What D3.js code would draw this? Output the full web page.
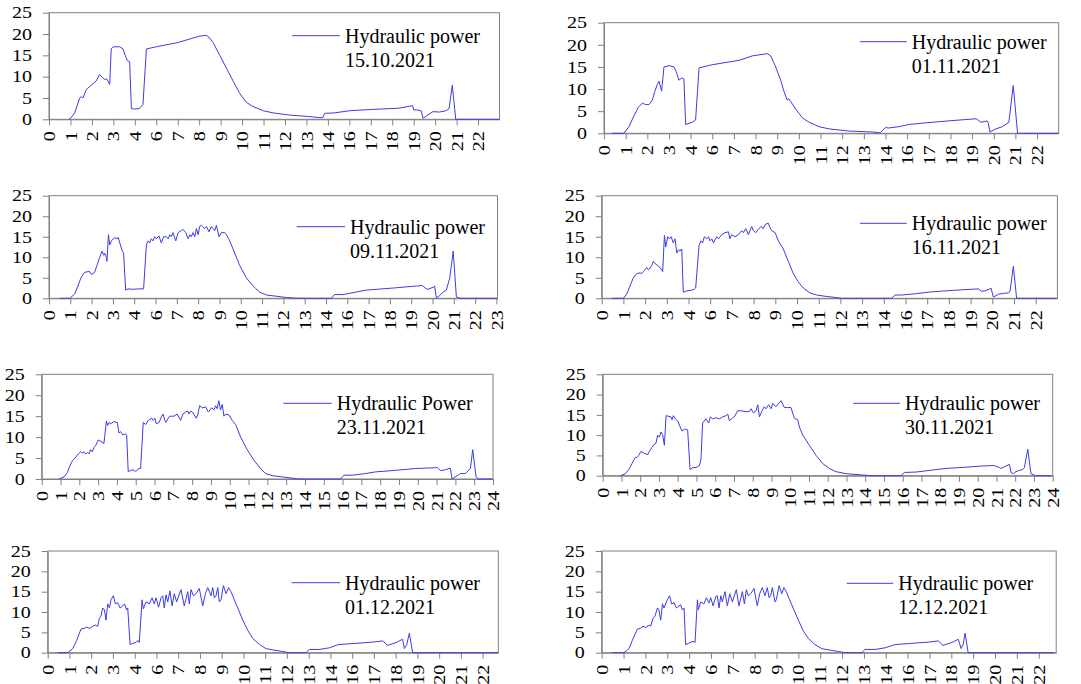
<!DOCTYPE html>
<html>
<head>
<meta charset="utf-8">
<script src="https://cdn.jsdelivr.net/npm/d3@7/dist/d3.min.js"></script>
<style>
  body { margin: 0; background: #fff; }
</style>
</head>
<body>
<div id="chart"></div>
<script>
// tick labels (hour of the day, as printed on each category axis)
const hoursA = ["0","1","2","3","4","6","7","8","9","10","11","12","13","14","16","17","18","19","20","21","22"];
const hoursB = ["0","1","2","3","4","6","7","8","9","10","11","12","13","14","16","17","18","19","20","21","22","23"];
const hoursC = ["0","1","2","3","4","5","6","7","8","9","10","11","12","13","14","15","16","17","18","19","20","21","22","23","24"];
const yTicks = [0, 5, 10, 15, 20, 25];

const dates = ["15.10.2021", "01.11.2021", "09.11.2021", "16.11.2021", "23.11.2021", "30.11.2021", "01.12.2021", "12.12.2021"];
const seriesNames = ["Hydraulic power", "Hydraulic power", "Hydraulic power", "Hydraulic power", "Hydraulic Power", "Hydraulic power", "Hydraulic power", "Hydraulic power"];

// hydraulic power, [axis position, kW]
const power_15_10 = [[0.93,0],[1.0,0.2],[1.2,1.5],[1.43,5],[1.5,5.3],[1.58,5],[1.74,7],[1.97,8],[2.2,9],[2.36,10.5],[2.5,9.8],[2.6,9.3],[2.68,9.5],[2.75,9],[2.83,8.2],[2.9,16.5],[3.0,17],[3.3,17],[3.45,16.5],[3.55,15],[3.65,13.8],[3.76,13.5],[3.84,2.5],[4.0,2.4],[4.2,2.5],[4.3,3],[4.38,3.5],[4.54,16.5],[5.0,17],[6.0,18],[7.02,19.5],[7.33,19.7],[7.45,19.3],[7.65,18],[7.96,15],[8.27,12],[8.58,9],[8.9,6],[9.2,4],[9.5,3],[10.0,2],[10.45,1.5],[11.2,1],[12.0,0.7],[12.4,0.5],[12.6,0.4],[12.77,0.4],[12.85,1.4],[13.3,1.5],[14.0,2.0],[15.0,2.3],[16.3,2.6],[16.95,3.2],[17.0,2.2],[17.15,2.2],[17.35,2.0],[17.44,0.2],[17.65,1.0],[17.9,1.8],[18.2,1.7],[18.5,2.0],[18.65,2.5],[18.8,8],[18.96,0],[21,0]];
const power_01_11 = [[0.38,0],[0.92,0],[1.15,1.5],[1.39,4],[1.6,6],[1.77,6.8],[1.92,6.5],[2.08,6.5],[2.23,7.5],[2.35,9.5],[2.46,11],[2.54,11.8],[2.66,9.5],[2.77,15],[3.0,15.3],[3.23,15],[3.33,14],[3.46,12],[3.58,12.5],[3.69,12.3],[3.77,2],[4.08,2.5],[4.23,3],[4.39,14.8],[5.0,15.5],[6.24,16.5],[6.85,17.5],[7.54,18],[7.7,17.5],[7.93,15],[8.16,12],[8.31,9.5],[8.46,7.5],[8.54,7.8],[8.62,7.2],[8.85,5.5],[9.16,3.5],[9.47,2.5],[9.93,1.5],[10.39,1],[11.32,0.5],[12.4,0.3],[12.75,0.1],[13.0,1.3],[13.15,1.2],[13.62,1.5],[14.1,2],[14.7,2.3],[15.9,2.8],[17.2,3.3],[17.4,2.5],[17.7,2.8],[17.75,2.3],[17.82,0.3],[18.1,1.0],[18.4,1.5],[18.7,2.5],[18.9,10.8],[19.1,0],[21,0]];
const power_09_11 = [[0.5,0],[0.97,0],[1.2,1],[1.36,3],[1.5,5],[1.67,6.3],[1.83,6.5],[1.91,6.5],[1.99,5.8],[2.14,6.3],[2.25,8],[2.38,10],[2.49,11.5],[2.57,10.5],[2.61,11],[2.69,10],[2.72,9],[2.79,15.5],[2.85,13],[2.93,14],[3.08,14.8],[3.19,14.5],[3.25,14.8],[3.35,13],[3.44,11.5],[3.5,11],[3.6,2],[3.71,2.3],[3.94,2.2],[4.26,2.3],[4.44,2.3],[4.57,13],[4.65,14],[4.73,13.5],[4.8,14.5],[4.88,14],[4.96,15],[5.04,14.5],[5.16,15.2],[5.27,13.5],[5.38,15],[5.51,15],[5.59,14.5],[5.67,15.5],[5.74,15],[5.82,16],[5.95,14],[6.06,16],[6.21,16.5],[6.29,16.8],[6.42,16],[6.53,14.5],[6.61,15.5],[6.68,15],[6.76,16],[6.84,15],[6.92,17],[7.0,15.5],[7.07,17.5],[7.15,17.8],[7.31,17],[7.39,17.5],[7.51,16.2],[7.62,17.5],[7.7,17],[7.78,16.5],[7.86,17.8],[7.98,15],[8.09,16],[8.25,16],[8.33,15.5],[8.48,14],[8.64,12],[8.95,8],[9.26,5],[9.58,3],[9.89,1.5],[10.2,0.8],[10.67,0.5],[11.14,0.2],[11.6,0.05],[12.1,0],[13.26,0],[13.4,0.9],[13.8,0.9],[14.1,1.2],[14.9,2],[16.15,2.5],[17.25,3],[17.53,3.1],[17.7,2.3],[17.78,2.2],[18.03,2.7],[18.1,3],[18.18,0.1],[18.3,0.5],[18.5,1.5],[18.65,2],[18.81,5],[18.97,11.5],[19.12,0.3],[19.28,0],[21.05,0]];
const power_16_11 = [[0.46,0],[1.0,0],[1.15,1],[1.3,3],[1.46,5],[1.61,6],[1.77,6.2],[1.84,6],[1.92,6.5],[2.0,7],[2.07,7.5],[2.15,7],[2.23,7.3],[2.3,8],[2.38,9],[2.49,8.3],[2.58,8],[2.69,7.5],[2.81,6.5],[2.89,15.3],[2.95,12.5],[3.04,15],[3.12,14.5],[3.2,15],[3.3,13.5],[3.38,14.5],[3.46,11],[3.53,11.8],[3.61,11.5],[3.69,12],[3.76,1.5],[3.92,1.8],[4.15,2],[4.27,2.2],[4.33,2.5],[4.49,13],[4.58,14],[4.65,13.5],[4.73,15],[4.84,14.5],[4.92,15],[4.99,14],[5.07,14.5],[5.15,13.5],[5.3,15],[5.38,14.5],[5.53,15.5],[5.68,16],[5.84,16.2],[5.91,14.5],[5.99,15.5],[6.14,15],[6.3,15.5],[6.45,16.5],[6.53,16],[6.64,17],[6.76,15.5],[6.91,17.5],[6.99,16.5],[7.1,16],[7.22,16.8],[7.34,17.5],[7.45,17],[7.53,18],[7.68,18.3],[7.73,17.5],[7.83,16.5],[7.99,16],[8.14,14],[8.37,12],[8.6,9],[8.83,6],[9.06,4],[9.29,2.5],[9.6,1.3],[9.91,0.8],[10.29,0.5],[10.75,0.2],[11.06,0],[13.36,0],[13.52,0.8],[13.83,0.8],[14.44,1.1],[15.05,1.5],[15.8,1.8],[16.7,2.1],[17.36,2.3],[17.5,1.7],[17.66,1.8],[17.9,2.3],[17.94,2.5],[18.05,0.3],[18.28,1],[18.51,1.2],[18.74,1.3],[18.82,1.8],[18.97,7.8],[19.12,0],[20.97,0]];
const power_23_11 = [[0.92,0],[1.19,0.5],[1.36,1.5],[1.49,3],[1.63,4.3],[1.77,5],[1.95,6],[2.07,6.5],[2.16,6.2],[2.25,6.5],[2.34,6],[2.43,6.3],[2.52,6],[2.6,7],[2.69,6.5],[2.78,7.5],[2.87,8],[3.01,9.3],[3.14,9],[3.31,8.5],[3.44,13.8],[3.51,12.8],[3.58,13.5],[3.67,13.2],[3.84,13.7],[4.02,13.5],[4.11,11],[4.2,11.3],[4.32,10.5],[4.43,10.8],[4.52,10.5],[4.6,1.8],[4.73,2],[4.85,2.2],[5.0,1.8],[5.17,2.5],[5.26,2.5],[5.4,13.5],[5.53,13],[5.67,14],[5.85,14.5],[5.93,14],[6.02,14.5],[6.09,13.2],[6.24,13.5],[6.38,15],[6.45,15.5],[6.59,13.5],[6.8,15],[7.03,15],[7.21,15.5],[7.39,14],[7.51,15.5],[7.65,16],[7.78,16.2],[7.83,15.5],[7.92,16.2],[8.01,16],[8.22,14.5],[8.31,15.5],[8.4,17.5],[8.54,17],[8.72,17.2],[8.86,16],[9.04,17],[9.16,16.5],[9.25,17.5],[9.33,16.8],[9.42,18.7],[9.51,16.5],[9.6,17.8],[9.69,15],[9.78,15.5],[9.96,15.3],[10.13,14],[10.31,13],[10.58,10],[10.93,7],[11.28,4.5],[11.64,2.5],[11.9,1.3],[12.26,0.8],[12.79,0.5],[13.32,0.2],[13.68,0],[15.89,0],[16.07,0.9],[16.51,0.9],[17.22,1.3],[17.75,1.7],[18.64,2.0],[19.88,2.5],[20.94,2.7],[21.03,2.8],[21.2,2],[21.47,2.2],[21.73,2.6],[21.82,0],[22.09,0.8],[22.27,1.3],[22.53,1.3],[22.8,2.5],[22.92,7],[23.1,0.5],[23.24,0],[23.95,0]];
const power_30_11 = [[0.95,0],[1.21,0.5],[1.39,1.5],[1.56,3],[1.74,4.5],[1.83,4.5],[1.92,5],[2.04,6],[2.22,5.5],[2.4,5.2],[2.49,6],[2.63,7],[2.76,7.8],[2.84,8],[2.93,10],[3.02,9.5],[3.11,10.8],[3.2,10],[3.29,7.5],[3.38,14.8],[3.64,14.5],[3.7,13.8],[3.77,14.8],[3.88,14],[4.0,13.5],[4.09,12.5],[4.23,11],[4.36,11.5],[4.53,11.3],[4.66,1.5],[4.8,2],[4.98,2],[5.16,2.5],[5.24,4],[5.33,13],[5.51,14],[5.65,13],[5.74,14.5],[5.87,14],[6.04,14.3],[6.22,14],[6.4,14.5],[6.58,14.8],[6.67,15.2],[6.76,13.5],[6.93,14.3],[7.02,14.5],[7.2,16],[7.38,16],[7.64,15.8],[7.82,15.8],[7.91,16.5],[8.04,15.5],[8.18,16],[8.27,17.5],[8.36,14.5],[8.5,16],[8.62,17],[8.71,16.5],[8.85,17.5],[8.98,16.5],[9.07,17.8],[9.24,17],[9.51,18.5],[9.69,16.8],[9.87,16.8],[10.04,16.8],[10.22,14.2],[10.4,13.8],[10.49,12],[10.67,10],[11.02,7.5],[11.38,5],[11.73,3],[12.09,1.8],[12.44,1],[12.98,0.5],[13.51,0.3],[14.04,0.1],[14.4,0],[15.91,0],[16.09,0.8],[16.71,0.9],[17.42,1.3],[18.31,1.8],[19.38,2.1],[20.27,2.4],[20.89,2.5],[21.16,2],[21.24,1.8],[21.42,2.2],[21.69,2.8],[21.78,0.8],[21.9,0.5],[22.04,1],[22.22,1.3],[22.4,1.5],[22.49,2],[22.67,6.5],[22.84,0.5],[23.1,0],[23.95,0]];
const power_01_12 = [[0.46,0],[0.92,0],[1.15,1],[1.33,3],[1.53,5.8],[1.68,6],[1.79,6.3],[1.92,6],[2.07,6.5],[2.19,6.8],[2.3,6.5],[2.38,8.5],[2.45,9],[2.53,11],[2.61,10.5],[2.68,8],[2.76,12],[2.84,11],[2.91,13],[3.02,14],[3.11,12],[3.22,12.3],[3.33,11],[3.45,11.5],[3.53,12],[3.63,10.5],[3.68,11],[3.79,2],[3.91,2.3],[4.06,2.5],[4.14,3],[4.21,2.5],[4.34,13],[4.4,10.8],[4.52,12.5],[4.67,12],[4.8,13.5],[4.9,12],[4.98,13.5],[5.1,11.2],[5.21,13.5],[5.29,14],[5.36,11],[5.44,14.2],[5.52,12.5],[5.62,15.2],[5.72,11.5],[5.82,14.5],[5.93,12.5],[6.13,15.5],[6.28,11.5],[6.44,15],[6.51,12],[6.59,15.5],[6.7,14],[6.82,14.5],[6.97,15.8],[7.13,11.5],[7.25,14.5],[7.36,16],[7.51,14],[7.59,16],[7.66,13.5],[7.74,14],[7.82,16],[7.89,12.5],[7.97,13],[8.08,16.5],[8.2,14.5],[8.32,16],[8.43,15],[8.58,13],[8.74,11],[8.97,8],[9.2,5.5],[9.43,3.5],[9.74,2],[10.04,1],[10.34,0.7],[10.8,0.3],[11.1,0],[11.88,0],[12.03,0.8],[12.49,0.8],[12.95,1.2],[13.36,2],[14.18,2.3],[14.94,2.6],[15.4,2.9],[15.63,1.8],[16.02,2.5],[16.32,3.3],[16.4,1],[16.51,2],[16.63,4.8],[16.78,0],[20.72,0]];
const power_12_12 = [[0.49,0],[1.02,0],[1.25,1],[1.4,3],[1.63,5.8],[1.78,6],[1.89,6.5],[2.01,6.2],[2.17,6.8],[2.24,6.5],[2.35,8.5],[2.44,9],[2.55,11],[2.62,10.5],[2.7,8],[2.78,12],[2.85,11],[3.0,13],[3.11,14],[3.2,12],[3.31,12.3],[3.42,11],[3.54,11.5],[3.61,11.8],[3.69,10.5],[3.77,11],[3.84,2],[3.97,2.3],[4.18,2.8],[4.27,2.5],[4.38,13],[4.42,10.5],[4.53,12.5],[4.68,12],[4.79,13.5],[4.91,12.2],[4.99,13.5],[5.1,11.5],[5.22,13.8],[5.29,14],[5.37,11],[5.45,14],[5.52,12.5],[5.64,15],[5.75,11.5],[5.86,14.5],[5.98,12.5],[6.16,15.5],[6.28,11.5],[6.44,15],[6.53,12],[6.62,15.5],[6.71,14],[6.82,14.5],[6.97,15.8],[7.12,11.5],[7.23,14.5],[7.35,16],[7.47,14],[7.58,16],[7.66,13.5],[7.73,14],[7.81,16],[7.93,12.5],[7.99,13],[8.12,16.5],[8.24,14.5],[8.34,16],[8.45,15],[8.6,13],[8.76,11],[9.0,8],[9.21,5.5],[9.46,3.5],[9.76,2],[10.07,1],[10.37,0.7],[10.83,0.3],[11.14,0],[11.9,0],[12.05,0.8],[12.51,0.8],[12.97,1.2],[13.42,2],[14.19,2.3],[14.95,2.6],[15.41,2.9],[15.62,1.8],[16.02,2.5],[16.32,3.3],[16.45,1],[16.54,2],[16.63,4.8],[16.77,0],[20.7,0]];

// panel boxes and legend anchors (pixels)
const panels = [
  { data: power_15_10, hours: hoursA, xMax: 21,    x0: 49,    x1: 499.5,  y0: 12.7,  y1: 119.3, leg: [292, 340, 35.7] },
  { data: power_01_11, hours: hoursA, xMax: 21,    x0: 604,   x1: 1058.7, y0: 22.7,  y1: 133.3, leg: [860, 906.7, 41.7] },
  { data: power_09_11, hours: hoursB, xMax: 21.05, x0: 49,    x1: 497.5,  y0: 195.7, y1: 298.3, leg: [296.7, 345, 226.7] },
  { data: power_16_11, hours: hoursA, xMax: 21,    x0: 601.7, x1: 1057.4, y0: 195.7, y1: 298.3, leg: [860, 906.7, 223.3] },
  { data: power_23_11, hours: hoursC, xMax: 24,    x0: 41.7,  x1: 493,    y0: 374.3, y1: 479,   leg: [283.3, 331.7, 403.3] },
  { data: power_30_11, hours: hoursC, xMax: 24,    x0: 602.7, x1: 1052.7, y0: 374.3, y1: 475.7, leg: [853.3, 900, 403.3] },
  { data: power_01_12, hours: hoursA, xMax: 20.72, x0: 47.7,  x1: 498.3,  y0: 551,   y1: 652.7, leg: [291.7, 340, 582.7] },
  { data: power_12_12, hours: hoursA, xMax: 20.8,  x0: 601.7, x1: 1056.2, y0: 551,   y1: 652.7, leg: [846.7, 893.3, 583.3] }
];

const lineColor = "#3c3ce6";
const axisColor = "#808080";
const serif = "'Liberation Serif', 'Times New Roman', serif";

const svg = d3.select("#chart").append("svg")
    .attr("width", 1081)
    .attr("height", 684);

panels.forEach((p, i) => {
    const x = d3.scaleLinear().domain([0, p.xMax]).range([p.x0, p.x1]);
    const y = d3.scaleLinear().domain([0, 25]).range([p.y1, p.y0]);

    const g = svg.append("g").attr("class", "panel");

    // plot frame
    g.append("rect")
        .attr("x", p.x0).attr("y", p.y0)
        .attr("width", p.x1 - p.x0).attr("height", p.y1 - p.y0)
        .attr("fill", "none").attr("stroke", axisColor);

    // y axis
    const yAxis = g.append("g")
        .attr("transform", `translate(${p.x0},0)`)
        .call(d3.axisLeft(y).tickValues(yTicks).tickSize(6).tickSizeOuter(0))
        .attr("font-family", serif);
    yAxis.selectAll("text")
        .attr("x", 0).attr("dy", "0.33em")
        .attr("transform", "translate(-17,0) scale(1.25,1)")
        .style("font-family", serif)
        .style("font-size", "16px")
        .style("text-anchor", "end");

    // x axis, one tick per category label
    const xAxis = g.append("g")
        .attr("transform", `translate(0,${p.y1})`)
        .call(d3.axisBottom(x)
            .tickValues(d3.range(p.hours.length))
            .tickFormat(k => p.hours[k])
            .tickSize(6).tickSizeOuter(0))
        .attr("font-family", serif);
    xAxis.selectAll("text")
        .attr("x", 0).attr("y", 0).attr("dy", "0.35em")
        .attr("transform", "translate(0,12) rotate(-90) scale(1.25,1)")
        .style("font-family", serif)
        .style("font-size", "16px")
        .style("text-anchor", "end");

    g.selectAll(".domain, .tick line").attr("stroke", axisColor);

    // series
    g.append("path")
        .datum(p.data)
        .attr("fill", "none")
        .attr("stroke", lineColor)
        .attr("stroke-width", 1)
        .attr("d", d3.line().x(d => x(d[0])).y(d => y(d[1])));

    // legend
    const [lx1, lx2, ly] = p.leg;
    g.append("line")
        .attr("x1", lx1).attr("x2", lx2)
        .attr("y1", ly).attr("y2", ly)
        .attr("stroke", lineColor);
    g.append("text")
        .attr("x", lx2 + 5).attr("y", ly + 7)
        .style("font-family", serif)
        .style("font-size", "20px")
        .text(seriesNames[i]);
    g.append("text")
        .attr("x", lx2 + 5).attr("y", ly + 31)
        .style("font-family", serif)
        .style("font-size", "20px")
        .text(dates[i]);
});
</script>
</body>
</html>
